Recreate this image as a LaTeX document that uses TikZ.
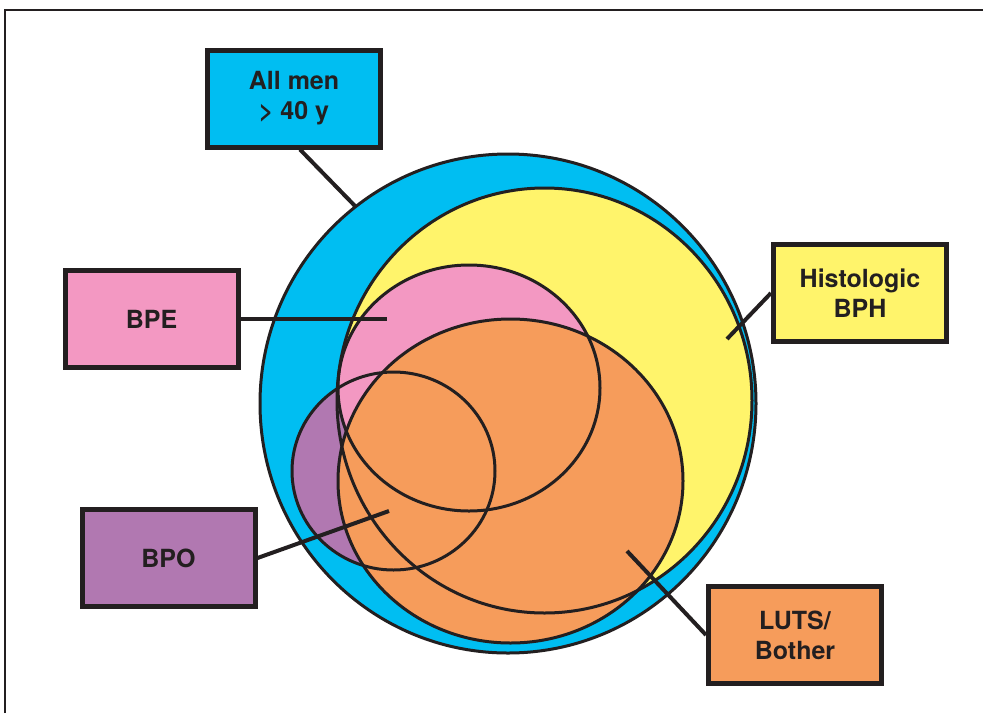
\documentclass[tikz,border=0pt]{standalone}
\usepackage{fontspec}
\setmainfont{TeX Gyre Heros}
\usepackage{tikz}
\usetikzlibrary{positioning, calc}
\definecolor{inkgray}{HTML}{231F20}
\definecolor{menblue}{HTML}{00BEF2}
\definecolor{bphyellow}{HTML}{FFF46B}
\definecolor{bpepink}{HTML}{F398C2}
\definecolor{bpopurple}{HTML}{B178B1}
\definecolor{lutsorange}{HTML}{F69C5B}

\begin{document}
\begin{tikzpicture}[
    x=1pt, y=-1pt,
    box/.style={draw=inkgray, line width=5pt, minimum width=173pt, minimum height=97pt, inner sep=0pt, align=center, text=inkgray, font=\fontsize{25}{30}\selectfont\bfseries},
    ring/.style={draw=inkgray, line width=3pt},
    leader/.style={draw=inkgray, line width=4pt},
]
\useasboundingbox (0,0) rectangle (983,713);

% Frame
\draw[inkgray, line width=2pt] (5,713) -- (5,10) -- (983,10);

% Fills
\fill[menblue] (508,403.5) ellipse [x radius=248, y radius=249.5];
\fill[bphyellow] (544.5,400.5) ellipse [x radius=207.5, y radius=212.5];
\fill[bpopurple] (393.5,471) ellipse [x radius=101.5, y radius=99];
\fill[bpepink] (469,388) ellipse [x radius=131, y radius=123];
\fill[lutsorange] (510.5,481) ellipse [x radius=172.5, y radius=162];

% Outlines
\draw[ring] (508,403.5) ellipse [x radius=248, y radius=249.5];
\draw[ring] (544.5,400.5) ellipse [x radius=207.5, y radius=212.5];
\draw[ring] (393.5,471) ellipse [x radius=101.5, y radius=99];
\draw[ring] (469,388) ellipse [x radius=131, y radius=123];
\draw[ring] (510.5,481) ellipse [x radius=172.5, y radius=162];

% Boxes
\node[box, fill=menblue] (men) at (294,98.5) {All men\\> 40 y};
\node[box, fill=bpepink] (bpe) at (151.5,319) {BPE};
\node[box, fill=bpopurple] (bpo) at (168.5,558) {BPO};
\node[box, fill=bphyellow] (bph) at (860,293) {Histologic\\BPH};
\node[box, fill=lutsorange] (luts) at (795,635) {LUTS/\\Bother};

% Leader ends
\coordinate (men-tip) at (356,207);
\coordinate (bpe-tip) at (387,319);
\coordinate (bpo-tip) at (389,511);
\coordinate (bph-tip) at (727,339);
\coordinate (luts-tip) at (627,551);

% Leaders
\draw[leader] ($(men.south)+(6,0)$) -- (men-tip);
\draw[leader] (bpe.east) -- (bpe-tip);
\draw[leader] (bpo.east) -- (bpo-tip);
\draw[leader] (bph.west) -- (bph-tip);
\draw[leader] (luts.west) -- (luts-tip);

\end{tikzpicture}
\end{document}
